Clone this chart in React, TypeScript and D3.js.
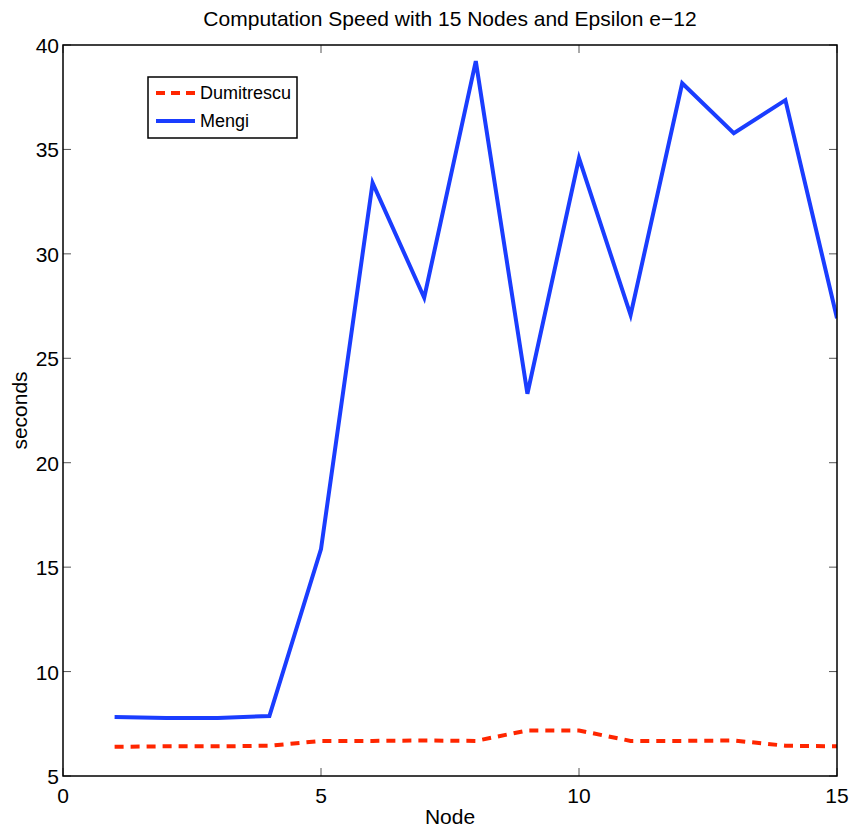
import React from 'react'
import { scaleLinear, line } from 'd3'

// node index 1..15
const nodes = [1, 2, 3, 4, 5, 6, 7, 8, 9, 10, 11, 12, 13, 14, 15]
const dumitrescu = [6.4, 6.42, 6.42, 6.45, 6.68, 6.68, 6.7, 6.68, 7.18, 7.18, 6.68, 6.68, 6.7, 6.45, 6.42]
const mengi = [7.82, 7.78, 7.78, 7.87, 15.87, 33.4, 27.9, 39.23, 23.3, 34.58, 27.07, 38.17, 35.78, 37.36, 26.92]

const xTicks = [0, 5, 10, 15]
const yTicks = [5, 10, 15, 20, 25, 30, 35, 40]

const title = 'Computation Speed with 15 Nodes and Epsilon e\u221212'

const W = 850
const H = 828
const margin = { top: 45, right: 13, bottom: 52, left: 63 }
const font = 'Liberation Sans, Arial, Helvetica, sans-serif'

const App = () => {
	const plotW = W - margin.left - margin.right
	const plotH = H - margin.top - margin.bottom

	const x = scaleLinear().domain([0, 15]).range([0, plotW])
	const y = scaleLinear().domain([5, 40]).range([plotH, 0])

	const path = line<number>()
		.x((_, i) => x(nodes[i]))
		.y((d) => y(d))

	const tickLen = 8
	const tickColor = '#555'

	return (
		<svg width={W} height={H} style={{ position: 'absolute', left: 0, top: 0, background: '#fff' }}>
			<text x={margin.left + plotW / 2} y={26} textAnchor="middle" fontFamily={font} fontSize={21}>
				{title}
			</text>

			<g transform={`translate(${margin.left}, ${margin.top})`}>
				<defs>
					<clipPath id="plotclip">
						<rect x={0} y={0} width={plotW} height={plotH} />
					</clipPath>
				</defs>

				{/* ticks inside the box, on all four sides */}
				{xTicks.map((t) => (
					<g key={`xt-${t}`}>
						<line x1={x(t)} x2={x(t)} y1={plotH} y2={plotH - tickLen} stroke={tickColor} />
						<line x1={x(t)} x2={x(t)} y1={0} y2={tickLen} stroke={tickColor} />
						<text x={x(t)} y={plotH + 27} textAnchor="middle" fontFamily={font} fontSize={21}>
							{t}
						</text>
					</g>
				))}
				{yTicks.map((t) => (
					<g key={`yt-${t}`}>
						<line x1={0} x2={tickLen} y1={y(t)} y2={y(t)} stroke={tickColor} />
						<line x1={plotW} x2={plotW - tickLen} y1={y(t)} y2={y(t)} stroke={tickColor} />
						<text x={-4} y={y(t) + 8} textAnchor="end" fontFamily={font} fontSize={21}>
							{t}
						</text>
					</g>
				))}

				<g clipPath="url(#plotclip)">
					<path d={path(dumitrescu) ?? ''} fill="none" stroke="#ff2600" strokeWidth={4} strokeDasharray="9,7" />
					<path d={path(mengi) ?? ''} fill="none" stroke="#1a3dff" strokeWidth={4} strokeLinejoin="miter" />
				</g>

				<rect x={0} y={0} width={plotW} height={plotH} fill="none" stroke="#000" strokeWidth={1.5} />

				{/* legend */}
				<g transform={`translate(${148 - margin.left}, ${77 - margin.top})`}>
					<rect x={0} y={0} width={149} height={61} fill="#fff" stroke="#000" strokeWidth={1.5} />
					<line x1={8} x2={47} y1={16} y2={16} stroke="#ff2600" strokeWidth={4} strokeDasharray="9,6" />
					<text x={52} y={22} fontFamily={font} fontSize={18}>Dumitrescu</text>
					<line x1={8} x2={47} y1={44} y2={44} stroke="#1a3dff" strokeWidth={4} />
					<text x={52} y={50} fontFamily={font} fontSize={18}>Mengi</text>
				</g>
			</g>

			<text x={margin.left + plotW / 2} y={824} textAnchor="middle" fontFamily={font} fontSize={21}>
				Node
			</text>
			<text
				transform={`translate(27, ${margin.top + plotH / 2}) rotate(-90)`}
				textAnchor="middle"
				fontFamily={font}
				fontSize={21}
			>
				seconds
			</text>
		</svg>
	)
}

export default App
